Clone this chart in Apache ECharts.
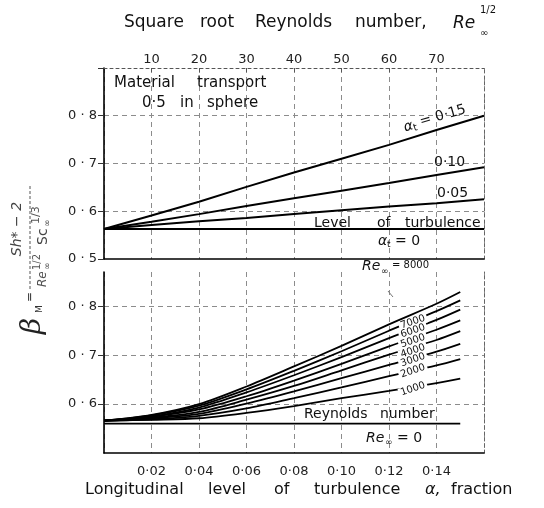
<!DOCTYPE html>
<html><head><meta charset="utf-8">
<script src="https://cdn.jsdelivr.net/npm/echarts@6/dist/echarts.min.js"></script>
<style>html,body{margin:0;padding:0;background:#fff}#c{width:544px;height:508px}</style>
</head><body><div id="c"></div>
<script>
// ---- data ----
const sqrtRe = [0, 10, 20, 30, 40, 50, 60, 70, 80];
const betaAt015 = [0.563, 0.591, 0.620, 0.651, 0.681, 0.710, 0.739, 0.770, 0.800];
const betaAt010 = [0.563, 0.578, 0.594, 0.611, 0.627, 0.643, 0.659, 0.676, 0.692];
const betaAt005 = [0.563, 0.571, 0.579, 0.586, 0.594, 0.602, 0.610, 0.617, 0.625];
const betaAt000 = [0.563, 0.563, 0.563, 0.563, 0.563, 0.563, 0.563, 0.563, 0.563];

const alpha = [0, 0.02, 0.04, 0.06, 0.08, 0.10, 0.12, 0.14, 0.15];
const betaRe8000 = [0.566, 0.578, 0.600, 0.636, 0.677, 0.719, 0.763, 0.805, 0.829];
const betaRe7000 = [0.566, 0.577, 0.597, 0.630, 0.668, 0.708, 0.750, 0.790, 0.812];
const betaRe6000 = [0.566, 0.575, 0.593, 0.624, 0.659, 0.696, 0.735, 0.772, 0.793];
const betaRe5000 = [0.566, 0.574, 0.589, 0.616, 0.648, 0.682, 0.718, 0.752, 0.771];
const betaRe4000 = [0.566, 0.572, 0.584, 0.609, 0.637, 0.669, 0.701, 0.731, 0.749];
const betaRe3000 = [0.566, 0.571, 0.580, 0.601, 0.626, 0.653, 0.680, 0.707, 0.723];
const betaRe2000 = [0.566, 0.569, 0.576, 0.591, 0.612, 0.634, 0.657, 0.679, 0.692];
const betaRe1000 = [0.566, 0.568, 0.571, 0.582, 0.596, 0.612, 0.627, 0.643, 0.652];
const betaRe0    = [0.560, 0.560, 0.560, 0.560, 0.560, 0.560, 0.560, 0.560, 0.560];

const sqrtReTickValues = [10, 20, 30, 40, 50, 60, 70];
const sqrtReTickLabels = ['10', '20', '30', '40', '50', '60', '70'];
const alphaTickValues = [0.02, 0.04, 0.06, 0.08, 0.10, 0.12, 0.14];
const alphaTickLabels = ['0·02', '0·04', '0·06', '0·08', '0·10', '0·12', '0·14'];
const topYTickValues = [0.5, 0.6, 0.7, 0.8];
const topYTickLabels = ['0 · 5', '0 · 6', '0 · 7', '0 · 8'];
const botYTickValues = [0.6, 0.7, 0.8];
const botYTickLabels = ['0 · 6', '0 · 7', '0 · 8'];
const reLabels = ['7000', '6000', '5000', '4000', '3000', '2000', '1000'];

// ---- helpers ----
const FONT = '"DejaVu Sans", sans-serif';
function lookup(vals, labels) {
  return v => { const i = vals.findIndex(t => Math.abs(t - v) < 1e-6); return i >= 0 ? labels[i] : ''; };
}
function pairs(xs, ys) { return xs.map((x, i) => [x, ys[i]]); }
const gridLine = { show: true, lineStyle: { color: '#8c8c8c', width: 1, type: [5, 4] } };
function T(x, y, text, size, styleExtra, elExtra) {
  const el = { type: 'text', x: x, y: y, z: 100, silent: true,
    style: Object.assign({ text: text, fill: '#111', font: size + 'px ' + FONT, textAlign: 'left', textVerticalAlign: 'middle' }, styleExtra || {}) };
  return Object.assign(el, elExtra || {});
}
function topSeries(ys) {
  return { type: 'line', xAxisIndex: 0, yAxisIndex: 0, data: pairs(sqrtRe, ys), showSymbol: false, silent: true,
    lineStyle: { color: '#000', width: 2 }, animation: false };
}
function botSeries(ys, smooth) {
  return { type: 'line', xAxisIndex: 2, yAxisIndex: 2, data: pairs(alpha, ys), showSymbol: false, silent: true,
    smooth: smooth ? 0.3 : false, lineStyle: { color: '#000', width: 1.8 }, animation: false };
}

const chart = echarts.init(document.getElementById('c'), null, { renderer: 'canvas' });

// label positions for the Reynolds numbers in the lower panel
const reLabelY = [322, 331, 341, 351, 360, 371, 389];

const graphics = [];
// top title
[['Square', 124], ['root', 200], ['Reynolds', 255], ['number,', 355]].forEach(w => graphics.push(T(w[1], 23, w[0], 17)));
graphics.push(T(453, 24, 'Re', 17, { font: 'italic 17px ' + FONT }));
graphics.push(T(480, 10, '1/2', 10));
graphics.push(T(480, 33, '∞', 10));
// bottom title
[['Longitudinal', 85], ['level', 208], ['of', 274], ['turbulence', 314], ['fraction', 451]].forEach(w => graphics.push(T(w[1], 490, w[0], 16)));
graphics.push(T(425, 490, 'α,', 16, { font: 'italic 16px ' + FONT }));
// top panel annotations
[['Material', 114], ['transport', 197]].forEach(w => graphics.push(T(w[1], 83, w[0], 15)));
[['0·5', 142], ['in', 180], ['sphere', 207]].forEach(w => graphics.push(T(w[1], 103, w[0], 15)));
graphics.push({ type: 'group', x: 404, y: 128, rotation: 0.28, z: 100, silent: true, children: [
  T(0, 0, 'α', 14, { font: 'italic 14px ' + FONT }),
  T(9, 3, 't', 10),
  T(17, -1, '= 0·15', 14)
] });
graphics.push(T(434, 162, '0·10', 14));
graphics.push(T(437, 193, '0·05', 14));
[['Level', 314], ['of', 377], ['turbulence', 405]].forEach(w => graphics.push(T(w[1], 223, w[0], 14)));
graphics.push(T(378, 241, 'α', 14, { font: 'italic 14px ' + FONT }));
graphics.push(T(387, 245, 't', 9));
graphics.push(T(395, 241, '= 0', 14));
// lower panel annotations
graphics.push(T(362, 266, 'Re', 14, { font: 'italic 14px ' + FONT }));
graphics.push(T(381, 272, '∞', 9));
graphics.push(T(392, 265, '= 8000', 10));
graphics.push({ type: 'line', z: 100, silent: true, shape: { x1: 388, y1: 291, x2: 393, y2: 297 }, style: { stroke: '#777', lineWidth: 1 } });
reLabels.forEach((s, i) => graphics.push(T(413, reLabelY[i], s, 10,
  { textAlign: 'center', backgroundColor: '#fff', padding: [0, 2], lineHeight: 10 }, { rotation: 0.33 })));
[['Reynolds', 304], ['number', 380]].forEach(w => graphics.push(T(w[1], 414, w[0], 14)));
graphics.push(T(366, 438, 'Re', 14, { font: 'italic 14px ' + FONT }));
graphics.push(T(385, 443, '∞', 9));
graphics.push(T(397, 438, '= 0', 14));
// y-axis formula (rotated)
graphics.push({ type: 'group', x: 30, y: 340, rotation: Math.PI / 2, z: 100, silent: true, children: [
  T(6, 3, 'β', 28, { font: 'italic 28px "DejaVu Serif", serif', fill: '#222' }),
  T(27, 10, 'M', 9, { fill: '#333' }),
  T(38, 0, '=', 12, { fill: '#333' }),
  { type: 'line', shape: { x1: 51, y1: 0, x2: 155, y2: 0 }, style: { stroke: '#555', lineWidth: 1, lineDash: [3, 2] } },
  T(111, -13, 'Sh* − 2', 14, { textAlign: 'center', font: 'italic 14px ' + FONT, fill: '#444' }),
  T(53, 13, 'Re', 12, { font: 'italic 12px ' + FONT, fill: '#555' }),
  T(70, 18, '∞', 9, { fill: '#555' }),
  T(70, 7, '1/2', 10, { fill: '#555' }),
  T(95, 13, 'Sc', 14, { fill: '#444' }),
  T(113, 18, '∞', 9, { fill: '#555' }),
  T(116, 6, '1/3', 11, { fill: '#555' })
] });

const axisLabelStyle = { color: '#222', fontSize: 13, fontFamily: FONT };

chart.setOption({
  animation: false,
  backgroundColor: '#fff',
  grid: [
    { left: 104, right: 60, top: 68, height: 191 },
    { left: 104, right: 60, top: 272, height: 181 }
  ],
  xAxis: [
    { gridIndex: 0, type: 'value', position: 'top', min: 0, max: 80, interval: 10,
      axisLine: { show: true, lineStyle: { color: '#555', width: 1, type: [3, 3] } },
      axisTick: { show: true, inside: true, length: 4, lineStyle: { color: '#555' } },
      axisLabel: Object.assign({ margin: 2, formatter: lookup(sqrtReTickValues, sqrtReTickLabels), showMinLabel: false, showMaxLabel: false }, axisLabelStyle),
      splitLine: gridLine },
    { gridIndex: 0, type: 'value', position: 'bottom', min: 0, max: 80, interval: 10,
      axisLine: { show: true, onZero: false, lineStyle: { color: '#000', width: 1.6 } },
      axisTick: { show: false }, axisLabel: { show: false }, splitLine: { show: false } },
    { gridIndex: 1, type: 'value', position: 'bottom', min: 0, max: 0.16, interval: 0.02,
      axisLine: { show: true, onZero: false, lineStyle: { color: '#000', width: 1.6 } },
      axisTick: { show: false },
      axisLabel: Object.assign({ margin: 12, formatter: lookup(alphaTickValues, alphaTickLabels), showMinLabel: false, showMaxLabel: false }, axisLabelStyle),
      splitLine: gridLine }
  ],
  yAxis: [
    { gridIndex: 0, type: 'value', min: 0.5, max: 0.9, interval: 0.1,
      axisLine: { show: true, onZero: false, lineStyle: { color: '#000', width: 1.6 } },
      axisTick: { show: true, length: 6, lineStyle: { color: '#333' } },
      axisLabel: Object.assign({ margin: 7, formatter: lookup(topYTickValues, topYTickLabels) }, axisLabelStyle),
      splitLine: Object.assign({ showMinLine: false, showMaxLine: false }, gridLine) },
    { gridIndex: 0, type: 'value', position: 'right', min: 0.5, max: 0.9, interval: 0.1,
      axisLine: { show: true, onZero: false, lineStyle: { color: '#666', width: 1, type: [3, 3] } },
      axisTick: { show: false }, axisLabel: { show: false }, splitLine: { show: false } },
    { gridIndex: 1, type: 'value', min: 0.5, max: 0.87, interval: 0.1,
      axisLine: { show: true, onZero: false, lineStyle: { color: '#000', width: 1.6 } },
      axisTick: { show: true, length: 6, lineStyle: { color: '#333' } },
      axisLabel: Object.assign({ margin: 7, formatter: lookup(botYTickValues, botYTickLabels), showMinLabel: false, showMaxLabel: false }, axisLabelStyle),
      splitLine: Object.assign({ showMinLine: false, showMaxLine: false }, gridLine) },
    { gridIndex: 1, type: 'value', position: 'right', min: 0.5, max: 0.87, interval: 0.1,
      axisLine: { show: true, onZero: false, lineStyle: { color: '#666', width: 1, type: [3, 3] } },
      axisTick: { show: false }, axisLabel: { show: false }, splitLine: { show: false } }
  ],
  series: [
    topSeries(betaAt015), topSeries(betaAt010), topSeries(betaAt005), topSeries(betaAt000),
    botSeries(betaRe8000, true), botSeries(betaRe7000, true), botSeries(betaRe6000, true), botSeries(betaRe5000, true),
    botSeries(betaRe4000, true), botSeries(betaRe3000, true), botSeries(betaRe2000, true), botSeries(betaRe1000, true),
    botSeries(betaRe0, false)
  ],
  graphic: graphics
});
</script>
</body></html>
